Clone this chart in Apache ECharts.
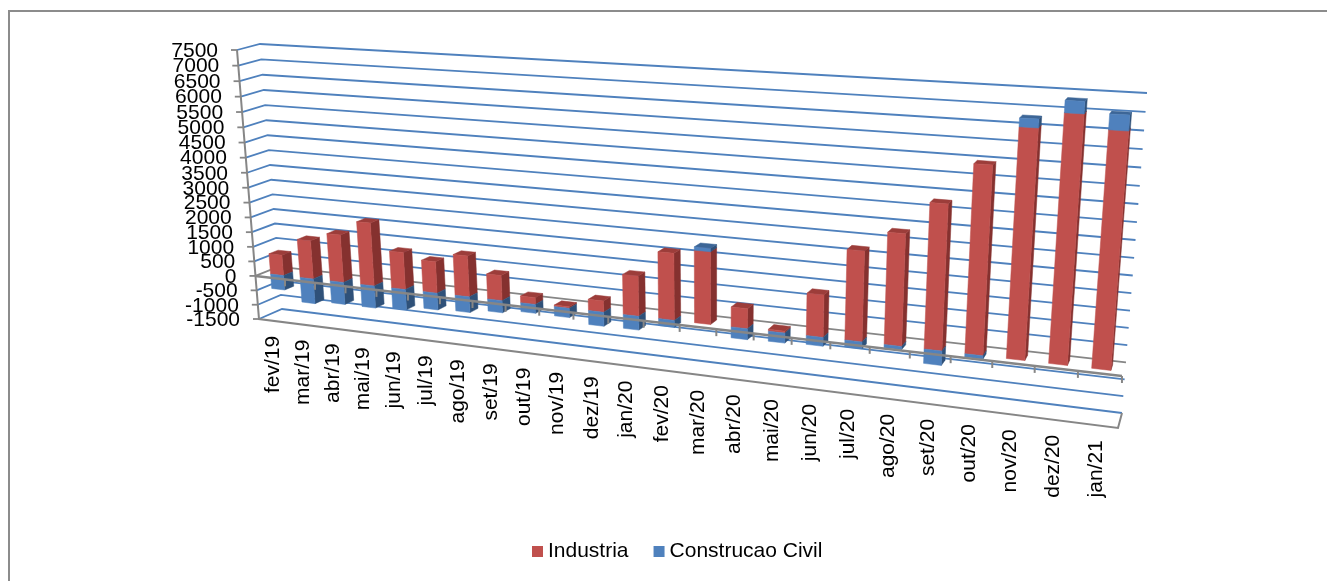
<!DOCTYPE html>
<html>
<head>
<meta charset="utf-8">
<style>
  html, body { margin: 0; padding: 0; background: #fff; }
  #chart { width: 1327px; height: 581px; }
</style>
<script src="https://cdn.jsdelivr.net/npm/echarts@6/dist/echarts.min.js"></script>
</head>
<body>
<div id="chart"></div>
<script>
var categories = ['fev/19','mar/19','abr/19','mai/19','jun/19','jul/19','ago/19','set/19','out/19','nov/19','dez/19','jan/20',
  'fev/20','mar/20','abr/20','mai/20','jun/20','jul/20','ago/20','set/20','out/20','nov/20','dez/20','jan/21'];
var industria = [700,1300,1600,2100,1230,1040,1340,820,220,50,360,1270,2090,2250,620,60,1290,2710,3320,4270,5450,6540,6990,6610];
var construcao = [-500,-850,-750,-750,-680,-560,-520,-400,-290,-300,-450,-440,-220,100,-340,-310,-270,-210,-100,-430,-100,240,330,420];
var tickValues = [-1500,-1000,-500,0,500,1000,1500,2000,2500,3000,3500,4000,4500,5000,5500,6000,6500,7000,7500];

var RED = { front: '#c0504d', side: '#85312f', top: '#9c3d3a' };
var BLUE = { front: '#4f81bd', side: '#2f5179', top: '#3d6697' };
var GRID_BLUE = '#4f81bd';
var AXIS_GRAY = '#868686';
var FONT = '21px "Liberation Sans", Arial, sans-serif';

// the two planes of the 3d box, corners are [left-bottom, right-bottom, right-top, left-top]
var frontPlane = quad([259,319],[1118,428],[1143,100],[237,50]);
var backPlane = quad([282,309],[1122,413],[1147,93],[260,44]);
var BAR_NEAR = 0.3, BAR_FAR = 0.7, BAR_WIDTH = 0.44;

function quad(p0, p1, p2, p3) {
  var dx1 = p1[0]-p2[0], dx2 = p3[0]-p2[0], dx3 = p0[0]-p1[0]+p2[0]-p3[0];
  var dy1 = p1[1]-p2[1], dy2 = p3[1]-p2[1], dy3 = p0[1]-p1[1]+p2[1]-p3[1];
  var den = dx1*dy2-dx2*dy1;
  var g = (dx3*dy2-dx2*dy3)/den, h = (dx1*dy3-dx3*dy1)/den;
  var a = p1[0]-p0[0]+g*p1[0], b = p3[0]-p0[0]+h*p3[0], c = p0[0];
  var d = p1[1]-p0[1]+g*p1[1], e = p3[1]-p0[1]+h*p3[1], f = p0[1];
  return function (u, v) {
    var q = g*u+h*v+1;
    return [(a*u+b*v+c)/q, (d*u+e*v+f)/q];
  };
}
// u,v are 0..1 across the hidden grid, w is depth 0 front .. 1 back
function project(u, v, w) {
  var a = frontPlane(u, v), b = backPlane(u, v);
  return [a[0]+(b[0]-a[0])*w, a[1]+(b[1]-a[1])*w];
}
function toUnit(params, api, cat, val) {
  var cs = params.coordSys, pt = api.coord([cat, val]);
  return [(pt[0]-cs.x)/cs.width, (cs.y+cs.height-pt[1])/cs.height];
}
function poly(points, fill) {
  return { type: 'polygon', shape: { points: points }, style: { fill: fill, stroke: fill, lineWidth: 0.5 } };
}
function line(points, color, width) {
  return { type: 'polyline', shape: { points: points }, style: { fill: 'none', stroke: color, lineWidth: width } };
}

function barPiece(params, api, from, to, colors, showTop) {
  var cat = api.value(0);
  var band = api.size([1, 0])[0]/params.coordSys.width;
  var c = toUnit(params, api, cat, from), d = toUnit(params, api, cat, to);
  var u0 = c[0]-band*BAR_WIDTH/2, u1 = c[0]+band*BAR_WIDTH/2;
  var vLow = Math.min(c[1], d[1]), vHigh = Math.max(c[1], d[1]);
  var kids = [];
  kids.push(poly([project(u1,vLow,BAR_NEAR),project(u1,vLow,BAR_FAR),project(u1,vHigh,BAR_FAR),project(u1,vHigh,BAR_NEAR)], colors.side));
  if (showTop) {
    kids.push(poly([project(u0,vHigh,BAR_NEAR),project(u1,vHigh,BAR_NEAR),project(u1,vHigh,BAR_FAR),project(u0,vHigh,BAR_FAR)], colors.top));
  }
  kids.push(poly([project(u0,vLow,BAR_NEAR),project(u1,vLow,BAR_NEAR),project(u1,vHigh,BAR_NEAR),project(u0,vHigh,BAR_NEAR)], colors.front));
  return { type: 'group', children: kids };
}

function renderIndustria(params, api) {
  return barPiece(params, api, 0, api.value(1), RED, true);
}
function renderConstrucao(params, api) {
  var val = api.value(1);
  if (val >= 0) {
    var base = industria[api.value(0)];
    return barPiece(params, api, base, base+val, BLUE, true);
  }
  return barPiece(params, api, 0, val, BLUE, false);
}
function renderWalls(params, api) {
  var v = toUnit(params, api, 0, api.value(1))[1];
  var color = api.value(1) === 0 ? AXIS_GRAY : GRID_BLUE;
  return line([project(0,v,0), project(0,v,1), project(1,v,1)], color, 1.8);
}
function renderValueAxis(params, api) {
  var val = api.value(1);
  var v = toUnit(params, api, 0, val)[1];
  var p = project(0,v,0);
  return { type: 'group', children: [
    line([[p[0]-6,p[1]], p], AXIS_GRAY, 1.8),
    { type: 'text', style: { x: p[0]-19, y: p[1]+1, text: String(val), textAlign: 'right', textVerticalAlign: 'middle', font: FONT, fill: '#000' } }
  ] };
}
function renderCategoryAxis(params, api) {
  var i = api.value(0);
  var band = api.size([1, 0])[0]/params.coordSys.width;
  var unit = toUnit(params, api, i, 0);
  var u = unit[0]+band/2, v = unit[1];
  var t = project(u,v,0);
  var floor = project(unit[0],0,0);
  return { type: 'group', children: [
    line([t, [t[0],t[1]+7]], AXIS_GRAY, 2),
    { type: 'text', x: floor[0], y: floor[1]+15, rotation: Math.PI/2,
      style: { text: categories[i], textAlign: 'right', textVerticalAlign: 'middle', font: FONT, fill: '#000' } }
  ] };
}
function renderFrame(params, api) {
  var zero = toUnit(params, api, 0, 0)[1];
  return { type: 'group', children: [
    line([project(0,1,0), project(0,0,0), project(1,0,0), project(1,0,1)], AXIS_GRAY, 2),
    line([project(0,zero,0), project(1,zero,0)], AXIS_GRAY, 2.5)
  ] };
}

var chart = echarts.init(document.getElementById('chart'));
chart.setOption({
  animation: false,
  backgroundColor: '#fff',
  legend: {
    data: ['Industria', 'Construcao Civil'],
    left: 527, top: 536,
    icon: 'rect', itemWidth: 11, itemHeight: 11, itemGap: 25,
    textStyle: { fontFamily: '"Liberation Sans", Arial, sans-serif', fontSize: 21, color: '#000', padding: [0, 0, 0, 0] },
    selectedMode: false
  },
  graphic: [
    { type: 'line', shape: { x1: 8, y1: 11, x2: 1327, y2: 11 }, style: { stroke: '#8c8c8c', lineWidth: 2 }, silent: true },
    { type: 'line', shape: { x1: 9, y1: 10, x2: 9, y2: 581 }, style: { stroke: '#8c8c8c', lineWidth: 2 }, silent: true }
  ],
  // hidden grid, only there to give the scales; project() bends it into the 3d box
  grid: { left: 0, top: 0, width: 1000, height: 500 },
  xAxis: { type: 'category', data: categories, show: false },
  yAxis: { type: 'value', min: -1500, max: 7500, interval: 500, show: false },
  series: [
    { name: 'walls', type: 'custom', z: 1, silent: true, renderItem: renderWalls,
      data: tickValues.map(function (t) { return [0, t]; }) },
    { name: 'Industria', type: 'custom', z: 2, silent: true, renderItem: renderIndustria, itemStyle: { color: RED.front },
      data: industria.map(function (v, i) { return [i, v]; }) },
    { name: 'Construcao Civil', type: 'custom', z: 3, silent: true, renderItem: renderConstrucao, itemStyle: { color: BLUE.front },
      data: construcao.map(function (v, i) { return [i, v]; }) },
    { name: 'frame', type: 'custom', z: 4, silent: true, renderItem: renderFrame, data: [[0, 0]] },
    { name: 'valueAxis', type: 'custom', z: 5, silent: true, renderItem: renderValueAxis,
      data: tickValues.map(function (t) { return [0, t]; }) },
    { name: 'categoryAxis', type: 'custom', z: 5, silent: true, renderItem: renderCategoryAxis,
      data: categories.map(function (c, i) { return [i, 0]; }) }
  ]
});
</script>
</body>
</html>
